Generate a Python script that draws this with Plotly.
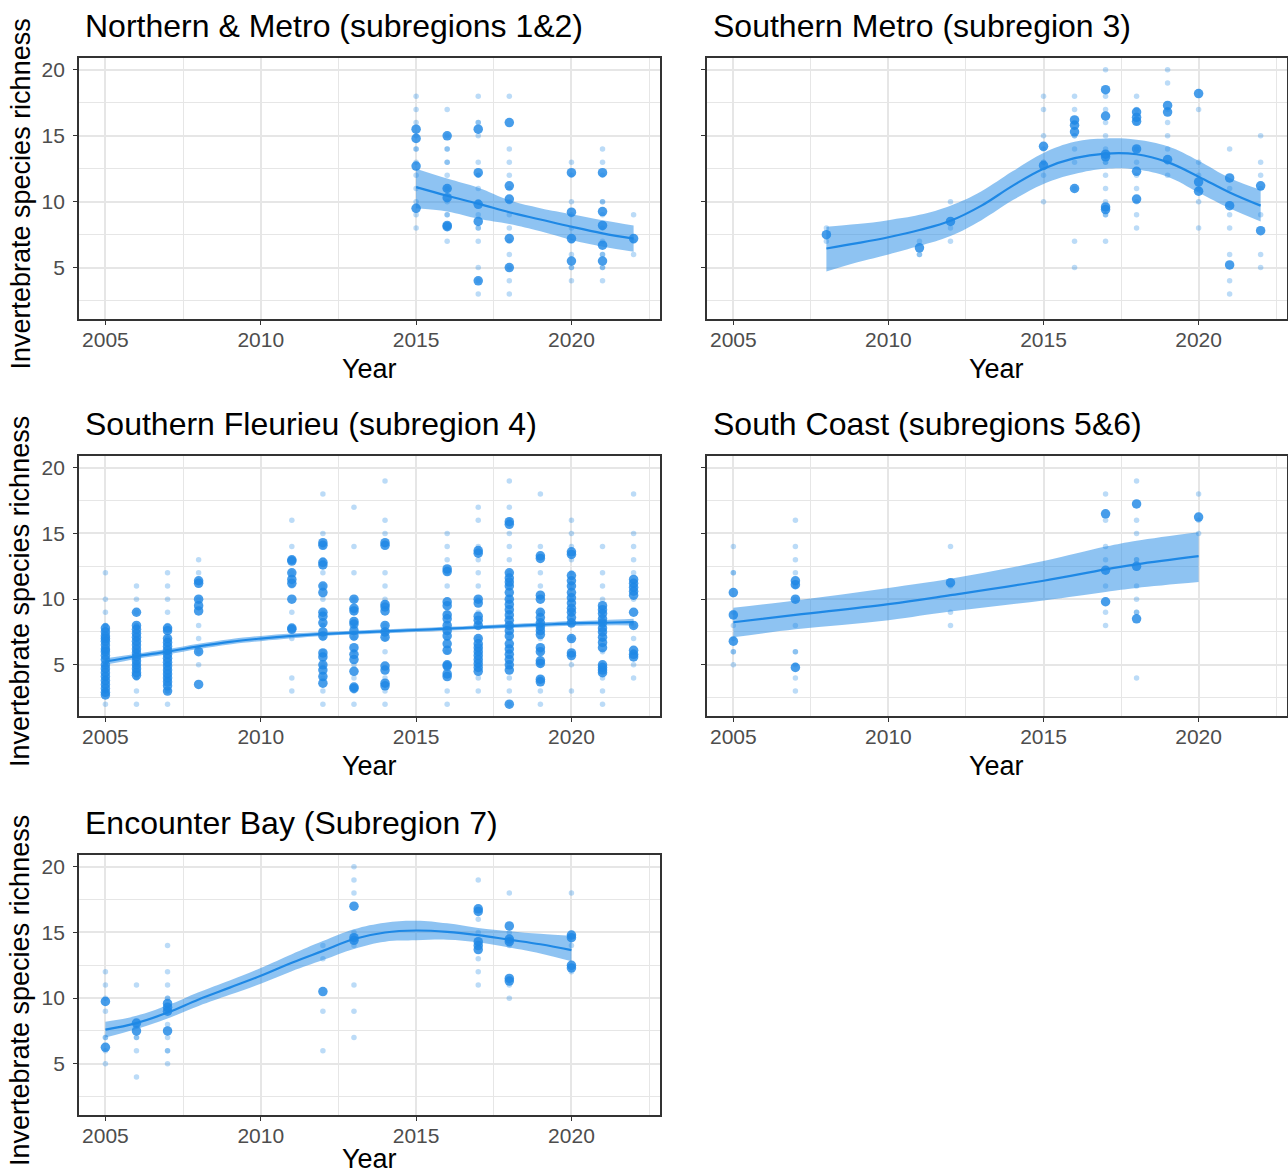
import plotly.graph_objects as go

# ---------------------------------------------------------------- data
# Raw survey richness values (per year) and site means (per year), plus the
# fitted trend with its confidence band, for each subregion panel.

nm_title = "Northern & Metro (subregions 1&2)"
nm_raw = {
    2015: [18, 17, 16, 15, 14, 14, 13, 12, 11, 10, 9, 8],
    2016: [17, 15, 14, 14, 13, 13, 12, 11, 10, 9, 9, 8, 7],
    2017: [18, 16, 16, 15, 13, 12, 12, 11, 10, 9, 8, 8, 7, 5, 4, 3],
    2018: [18, 14, 13, 12, 11, 10, 9, 8, 7, 6, 5, 4, 3],
    2020: [13, 12, 10, 9, 8, 7, 6, 5, 5, 4],
    2021: [14, 13, 12, 10, 10, 9, 8, 7, 6, 6, 5, 5, 4],
    2022: [9, 7, 6],
}
nm_mean = {
    2015: [15.5, 14.8, 12.7, 9.5],
    2016: [15.0, 11.0, 10.3, 8.2, 8.1],
    2017: [15.5, 12.2, 9.8, 8.5, 4.0],
    2018: [16.0, 11.2, 10.2, 7.2, 5.0],
    2020: [12.2, 9.2, 7.2, 5.5],
    2021: [12.2, 9.25, 8.2, 6.7, 5.5],
    2022: [7.2],
}
nm_fit_year = [2015, 2016, 2017, 2018, 2019, 2020, 2021, 2022]
nm_fit = [11.1, 10.45, 9.85, 9.2, 8.65, 8.1, 7.6, 7.2]
nm_hi = [12.5, 11.75, 11.05, 10.1, 9.5, 9.05, 8.6, 8.2]
nm_lo = [9.5, 9.25, 8.7, 8.3, 7.75, 7.1, 6.6, 6.2]

sm_title = "Southern Metro (subregion 3)"
sm_raw = {
    2008: [8, 7],
    2011: [7, 6, 6],
    2012: [10, 8, 7],
    2015: [18, 17, 15, 14, 13, 13, 12, 10],
    2016: [18, 17, 16, 15, 15, 14, 13, 11, 7, 5],
    2017: [20, 18, 17, 16, 15, 14, 13, 13, 12, 11, 10, 9, 9, 7],
    2018: [18, 17, 16, 14, 13, 12, 11, 10, 9, 8],
    2019: [20, 19, 17, 16, 15, 14, 13, 12],
    2020: [17, 13, 12, 11, 10, 8],
    2021: [14, 11, 9, 8, 6, 4, 3],
    2022: [15, 13, 12, 11, 9, 6, 5],
}
sm_mean = {
    2008: [7.5],
    2011: [6.5],
    2012: [8.5],
    2015: [14.2, 12.75],
    2016: [16.2, 15.8, 15.3, 11.0],
    2017: [18.5, 16.5, 13.6, 13.4, 9.6, 9.4],
    2018: [16.8, 16.4, 16.1, 14.0, 12.3, 10.2],
    2019: [17.3, 16.8, 13.2],
    2020: [18.2, 11.5, 10.8],
    2021: [11.8, 9.7, 5.2],
    2022: [11.2, 7.8],
}
sm_fit_year = [2008, 2009, 2010, 2011, 2012, 2013, 2014, 2015,
               2016, 2017, 2018, 2019, 2020, 2021, 2022]
sm_fit = [6.45, 6.85, 7.3, 7.85, 8.55, 9.7, 11.2, 12.5,
          13.3, 13.65, 13.6, 13.0, 11.9, 10.7, 9.7]
sm_hi = [8.1, 8.3, 8.6, 9.0, 9.7, 10.8, 12.3, 13.7,
         14.55, 14.8, 14.7, 14.2, 13.1, 11.8, 10.9]
sm_lo = [4.7, 5.4, 6.0, 6.65, 7.4, 8.6, 10.1, 11.35,
         12.1, 12.5, 12.45, 11.9, 10.7, 9.5, 8.5]

sf_title = "Southern Fleurieu (subregion 4)"
sf_raw = {
    2005: [12, 10, 9, 8, 8, 7, 7, 7, 6, 6, 6, 5, 5, 5, 4, 4, 4, 3, 3, 3, 2],
    2006: [11, 10, 9, 8, 8, 7, 7, 6, 6, 6, 5, 5, 4, 4, 3, 2],
    2007: [12, 11, 10, 9, 8, 7, 7, 6, 6, 5, 5, 4, 4, 3, 3, 2],
    2008: [13, 12, 10, 8, 7, 6, 5],
    2011: [16, 14, 12, 11, 9, 7, 4, 3],
    2012: [18, 15, 14, 13, 12, 11, 10, 9, 8, 8, 7, 6, 5, 4, 3, 2],
    2013: [17, 14, 12, 10, 9, 8, 7, 6, 5, 4, 3, 2],
    2014: [19, 16, 15, 12, 11, 10, 8, 7, 6, 4, 3, 2],
    2016: [15, 14, 13, 12, 11, 9, 8, 7, 6, 5, 3, 2],
    2017: [17, 16, 14, 13, 12, 11, 10, 9, 8, 7, 6, 5, 4, 3],
    2018: [19, 17, 16, 15, 14, 13, 12, 11, 10, 9, 8, 7, 6, 5, 4, 3, 2],
    2019: [18, 14, 12, 11, 9, 8, 7, 6, 5, 4, 3, 2],
    2020: [16, 15, 14, 13, 12, 11, 10, 9, 8, 7, 5, 3],
    2021: [14, 12, 11, 10, 9, 8, 7, 6, 5, 4, 3, 2],
    2022: [18, 15, 14, 13, 12, 10, 8, 7, 6, 5, 4],
}
sf_mean = {
    2005: [7.8, 7.5, 7.2, 7.0, 6.8, 6.5, 6.2, 6.0, 5.7, 5.4, 5.0, 4.7,
           4.4, 4.1, 3.8, 3.5, 3.2, 2.9, 2.7],
    2006: [9.0, 8.0, 7.7, 7.4, 7.1, 6.8, 6.5, 6.2, 5.9, 5.6, 5.3, 5.0,
           4.7, 4.4, 4.2],
    2007: [7.8, 7.6, 7.0, 6.7, 6.4, 6.1, 5.8, 5.5, 5.2, 4.9, 4.6, 4.3,
           4.0, 3.7, 3.4, 3.0],
    2008: [11.4, 11.2, 10.0, 9.5, 9.1, 6.0, 3.5],
    2011: [13.0, 12.9, 12.0, 11.5, 11.2, 10.0, 7.8, 7.7],
    2012: [14.3, 14.1, 12.8, 12.6, 11.0, 10.5, 9.0, 8.7, 8.2, 7.5, 7.2,
           5.9, 5.6, 5.0, 4.6, 4.1, 3.6],
    2013: [10.0, 9.3, 9.1, 8.3, 8.1, 7.6, 7.2, 6.3, 5.8, 5.4, 4.5, 3.3, 3.2],
    2014: [14.3, 14.1, 9.6, 9.4, 9.1, 8.0, 7.5, 7.1, 4.9, 4.6, 3.6, 3.4],
    2016: [12.3, 12.1, 9.8, 9.5, 8.8, 8.5, 8.0, 7.6, 7.2, 6.6, 6.1, 5.0,
           4.9, 4.3, 4.1],
    2017: [13.7, 13.5, 10.0, 9.7, 8.7, 8.4, 8.0, 7.0, 6.6, 6.3, 6.0, 5.7,
           5.4, 5.1, 4.8, 4.5],
    2018: [15.9, 15.7, 12.0, 11.6, 11.3, 11.0, 10.5, 10.0, 9.6, 9.2, 8.8,
           8.4, 8.0, 7.6, 7.2, 6.6, 6.2, 5.8, 5.4, 5.0, 4.6, 2.0],
    2019: [13.3, 13.1, 10.3, 10.0, 9.0, 8.6, 8.2, 7.9, 7.6, 7.3, 6.3, 6.0,
           5.3, 5.1, 3.9, 3.7],
    2020: [13.6, 13.4, 11.8, 11.4, 11.0, 10.5, 10.1, 9.7, 9.3, 9.0, 8.6,
           8.2, 7.0, 5.9, 5.7],
    2021: [9.5, 9.2, 8.9, 8.5, 8.2, 7.8, 7.5, 7.1, 6.7, 6.3, 5.0, 4.8,
           4.6, 4.4],
    2022: [11.5, 11.2, 10.9, 10.6, 10.3, 9.0, 8.0, 6.1, 5.8, 5.6],
}
sf_fit_year = [2005, 2006, 2007, 2008, 2009, 2010, 2011, 2012, 2013,
               2014, 2015, 2016, 2017, 2018, 2019, 2020, 2021, 2022]
sf_fit = [5.25, 5.65, 6.0, 6.4, 6.75, 7.0, 7.2, 7.35, 7.45,
          7.55, 7.65, 7.75, 7.85, 7.95, 8.05, 8.15, 8.2, 8.25]
sf_hi = [5.5, 5.85, 6.2, 6.6, 6.95, 7.2, 7.38, 7.5, 7.6,
         7.7, 7.8, 7.9, 8.0, 8.1, 8.22, 8.33, 8.4, 8.5]
sf_lo = [5.0, 5.45, 5.8, 6.2, 6.55, 6.8, 7.02, 7.2, 7.3,
         7.4, 7.5, 7.6, 7.7, 7.8, 7.88, 7.97, 8.0, 8.0]

sc_title = "South Coast (subregions 5&6)"
sc_raw = {
    2005: [14, 12, 12, 9, 8, 7, 6, 6, 5],
    2007: [16, 14, 13, 12, 11, 11, 10, 8, 6, 6, 5, 4, 3],
    2012: [14, 11, 9, 8],
    2017: [18, 16, 14, 13, 11, 9, 8],
    2018: [19, 16, 15, 13, 13, 11, 10, 9, 9, 4],
    2020: [18, 16, 15],
}
sc_mean = {
    2005: [10.5, 8.8, 6.8],
    2007: [11.4, 11.1, 10.0, 4.8],
    2012: [11.25],
    2017: [16.5, 12.2, 9.8],
    2018: [17.25, 12.5, 8.5],
    2020: [16.25],
}
sc_fit_year = [2005, 2007, 2010, 2012, 2015, 2017, 2018, 2020]
sc_fit = [8.24, 8.8, 9.62, 10.3, 11.4, 12.27, 12.65, 13.27]
sc_hi = [9.35, 9.9, 10.85, 11.55, 12.9, 14.0, 14.45, 15.1]
sc_lo = [7.1, 7.7, 8.4, 9.05, 9.9, 10.55, 10.85, 11.3]

eb_title = "Encounter Bay (Subregion 7)"
eb_raw = {
    2005: [12, 11, 10, 9, 7, 7, 6, 5],
    2006: [11, 8, 7, 7, 6, 4],
    2007: [14, 12, 11, 10, 10, 9, 8, 7, 6, 6, 5],
    2012: [14, 13, 9, 6],
    2013: [20, 19, 18, 15, 14, 11, 9, 7],
    2017: [19, 16, 15, 14, 13, 12, 11],
    2018: [18, 15, 14, 11, 10],
    2020: [18, 14, 12],
}
eb_mean = {
    2005: [9.75, 6.25],
    2006: [8.1, 7.5],
    2007: [9.6, 9.3, 9.0, 7.5],
    2012: [10.5],
    2013: [17.0, 14.6, 14.4],
    2017: [16.8, 16.6, 14.3, 14.0, 13.7],
    2018: [15.5, 14.5, 14.3, 11.5, 11.3],
    2020: [14.8, 14.6, 12.5, 12.3],
}
eb_fit_year = [2005, 2006, 2007, 2008, 2009, 2010, 2011, 2012,
               2013, 2014, 2015, 2016, 2017, 2018, 2019, 2020]
eb_fit = [7.6, 8.1, 8.9, 9.9, 10.8, 11.7, 12.7, 13.6,
          14.5, 15.0, 15.15, 15.05, 14.8, 14.45, 14.1, 13.65]
eb_hi = [8.2, 8.65, 9.45, 10.45, 11.35, 12.3, 13.35, 14.35,
         15.25, 15.75, 15.9, 15.7, 15.35, 15.1, 14.9, 14.75]
eb_lo = [7.0, 7.65, 8.45, 9.4, 10.25, 11.1, 12.05, 12.9,
         13.75, 14.3, 14.4, 14.45, 14.25, 13.85, 13.4, 12.8]

x_ticks = [2005, 2010, 2015, 2020]
x_minor = [2007.5, 2012.5, 2017.5, 2022.5]
y_ticks = [5, 10, 15, 20]
y_minor = [2.5, 7.5, 12.5, 17.5]
y_title = "Invertebrate species richness"
x_title = "Year"

# ---------------------------------------------------------------- styling
W, H = 1288, 1176
BLUE = "#1E88E5"
RAW_RGBA = "rgba(30,136,229,0.3)"
MEAN_RGBA = "rgba(30,136,229,0.82)"
BAND_RGBA = "rgba(30,136,229,0.5)"
GRID = "#E6E6E6"
FRAME = "#333333"
FONT = "Liberation Sans, Arial, sans-serif"

# plot-area boxes in pixels: (left, top, right, bottom)
boxes = [
    (79, 58, 660, 319),
    (707, 58, 1287, 319),
    (79, 456, 660, 716),
    (707, 456, 1287, 716),
    (79, 855, 660, 1115),
]

panels = [
    (nm_title, nm_raw, nm_mean, nm_fit_year, nm_fit, nm_lo, nm_hi, True),
    (sm_title, sm_raw, sm_mean, sm_fit_year, sm_fit, sm_lo, sm_hi, False),
    (sf_title, sf_raw, sf_mean, sf_fit_year, sf_fit, sf_lo, sf_hi, True),
    (sc_title, sc_raw, sc_mean, sc_fit_year, sc_fit, sc_lo, sc_hi, False),
    (eb_title, eb_raw, eb_mean, eb_fit_year, eb_fit, eb_lo, eb_hi, True),
]


def flatten(by_year):
    xs, ys = [], []
    for yr, vals in by_year.items():
        xs.extend([yr] * len(vals))
        ys.extend(vals)
    return xs, ys


fig = go.Figure()
annotations = []
layout_axes = {}

for i, (title, raw, mean, fy, fit, lo, hi, show_ylab) in enumerate(panels):
    n = i + 1
    xa = "x" if n == 1 else f"x{n}"
    ya = "y" if n == 1 else f"y{n}"
    left, top, right, bottom = boxes[i]

    rx, ry = flatten(raw)
    mx, my = flatten(mean)

    fig.add_trace(go.Scatter(
        x=rx, y=ry, mode="markers", xaxis=xa, yaxis=ya, showlegend=False,
        marker=dict(size=5.5, color=RAW_RGBA, line=dict(width=0)),
        hoverinfo="skip"))
    fig.add_trace(go.Scatter(
        x=mx, y=my, mode="markers", xaxis=xa, yaxis=ya, showlegend=False,
        marker=dict(size=9.5, color=MEAN_RGBA, line=dict(width=0))))
    # confidence band
    fig.add_trace(go.Scatter(
        x=fy, y=lo, mode="lines", xaxis=xa, yaxis=ya, showlegend=False,
        line=dict(width=0, shape="spline", smoothing=1.1), hoverinfo="skip"))
    fig.add_trace(go.Scatter(
        x=fy, y=hi, mode="lines", xaxis=xa, yaxis=ya, showlegend=False,
        fill="tonexty", fillcolor=BAND_RGBA,
        line=dict(width=0, shape="spline", smoothing=1.1), hoverinfo="skip"))
    # fitted trend
    fig.add_trace(go.Scatter(
        x=fy, y=fit, mode="lines", xaxis=xa, yaxis=ya, showlegend=False,
        line=dict(color=BLUE, width=2.2, shape="spline", smoothing=1.1)))

    xkey = "xaxis" if n == 1 else f"xaxis{n}"
    ykey = "yaxis" if n == 1 else f"yaxis{n}"
    layout_axes[xkey] = dict(
        domain=[left / W, right / W], anchor=ya,
        range=[2004.15, 2022.85], tickmode="array", tickvals=x_ticks,
        ticks="outside", ticklen=4, tickwidth=1.2, tickcolor=FRAME,
        ticklabelstandoff=-3,
        tickfont=dict(size=21, color="#4D4D4D", family=FONT),
        showgrid=True, gridcolor=GRID, gridwidth=1.6,
        minor=dict(tickvals=x_minor, showgrid=True, gridcolor=GRID,
                   gridwidth=0.9, ticks=""),
        showline=True, linecolor=FRAME, linewidth=1.8, mirror=True,
        zeroline=False, fixedrange=True)
    layout_axes[ykey] = dict(
        domain=[1 - bottom / H, 1 - top / H], anchor=xa,
        range=[1.1, 20.9], tickmode="array", tickvals=y_ticks,
        ticks="outside", ticklen=4, tickwidth=1.2, tickcolor=FRAME,
        showticklabels=show_ylab, ticklabelstandoff=4,
        tickfont=dict(size=21, color="#4D4D4D", family=FONT),
        showgrid=True, gridcolor=GRID, gridwidth=1.6,
        minor=dict(tickvals=y_minor, showgrid=True, gridcolor=GRID,
                   gridwidth=0.9, ticks=""),
        showline=True, linecolor=FRAME, linewidth=1.8, mirror=True,
        zeroline=False, fixedrange=True)

    # panel title
    annotations.append(dict(
        text=title, xref="paper", yref="paper",
        x=(left + 4) / W, y=1 - (top - 32) / H,
        xanchor="left", yanchor="middle", showarrow=False,
        font=dict(size=32, color="black", family=FONT)))
    # x-axis title
    if bottom + 50 < H - 20:
        annotations.append(dict(
            text=x_title, xref="paper", yref="paper",
            x=(left + right) / 2 / W, y=1 - (bottom + 50) / H,
            xanchor="center", yanchor="middle", showarrow=False,
            font=dict(size=27, color="black", family=FONT)))
    else:
        annotations.append(dict(
            text=x_title, xref="paper", yref="paper",
            x=(left + right) / 2 / W, y=0,
            xanchor="center", yanchor="bottom", showarrow=False,
            font=dict(size=27, color="black", family=FONT)))
    # y-axis title (left column only)
    if show_ylab:
        annotations.append(dict(
            text=y_title, xref="paper", yref="paper",
            x=20 / W, y=1 - ((top + bottom) / 2 + 6) / H,
            xanchor="center", yanchor="middle", textangle=-90,
            showarrow=False,
            font=dict(size=27, color="black", family=FONT)))

fig.update_layout(
    width=W, height=H,
    margin=dict(l=0, r=0, t=0, b=0),
    paper_bgcolor="white", plot_bgcolor="white",
    annotations=annotations,
    font=dict(family=FONT),
    **layout_axes)

fig.write_html("out.html")
